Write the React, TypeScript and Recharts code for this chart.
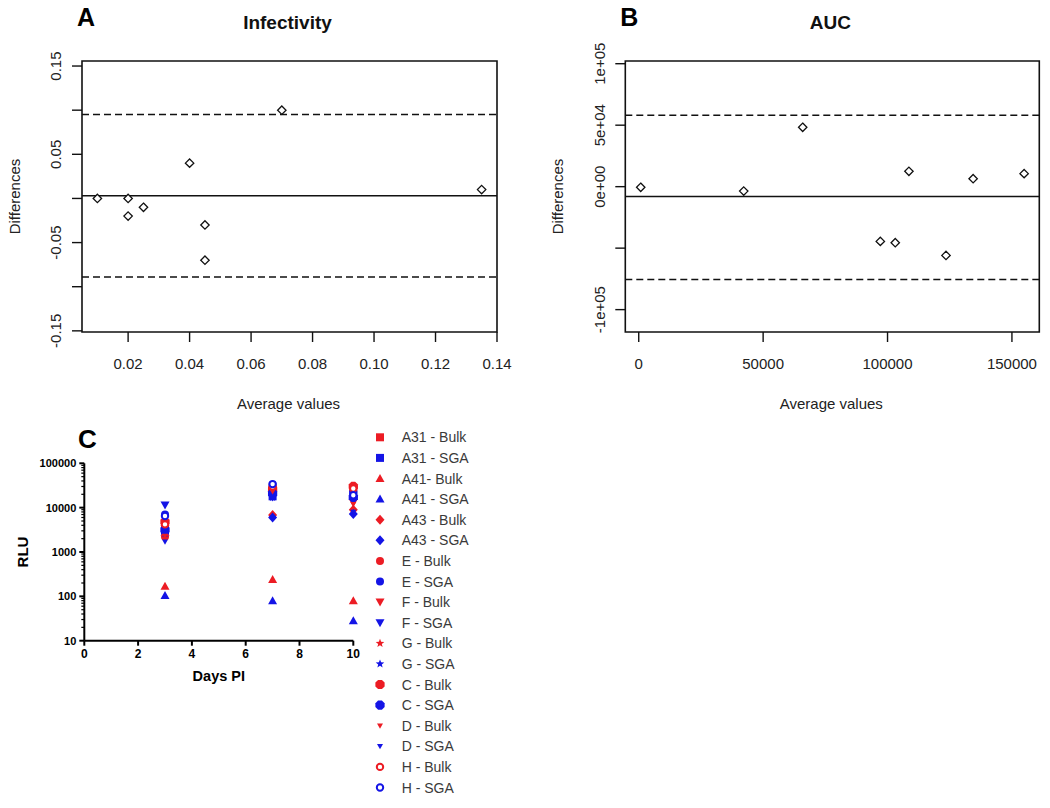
import React from "react";
import {
  ScatterChart,
  Scatter,
  XAxis,
  YAxis,
  ReferenceLine,
  ReferenceArea,
  Legend,
} from "recharts";

// ---- Panel A: infectivity (Bland-Altman) ----
const infAvg = [0.01, 0.02, 0.02, 0.025, 0.04, 0.045, 0.045, 0.07, 0.135];
const infDiff = [0.0, 0.0, -0.02, -0.01, 0.04, -0.03, -0.07, 0.1, 0.01];
const infMean = 0.003;
const infUpper = 0.095;
const infLower = -0.089;
const infXTicks = [0.02, 0.04, 0.06, 0.08, 0.1, 0.12, 0.14];
const infXLabels = ["0.02", "0.04", "0.06", "0.08", "0.10", "0.12", "0.14"];
const infYTicks = [-0.15, -0.1, -0.05, 0, 0.05, 0.1, 0.15];
const infYLabels = ["-0.15", "", "-0.05", "", "0.05", "", "0.15"];

// ---- Panel B: AUC (Bland-Altman) ----
const aucAvg = [800, 42200, 65900, 97100, 103100, 108600, 123500, 134400, 154900];
const aucDiff = [-500, -3600, 48300, -44500, -45600, 12500, -55900, 6500, 10600];
const aucMean = -8100;
const aucUpper = 58000;
const aucLower = -75500;
const aucXTicks = [0, 50000, 100000, 150000];
const aucXLabels = ["0", "50000", "100000", "150000"];
const aucYTicks = [-100000, -50000, 0, 50000, 100000];
const aucYLabels = ["-1e+05", "", "0e+00", "5e+04", "1e+05"];

// ---- Panel C: RLU over days ----
const days = [3, 7, 10];
const seriesNames = [
  "A31 - Bulk", "A31 - SGA", "A41- Bulk", "A41 - SGA", "A43 - Bulk", "A43 - SGA",
  "E - Bulk", "E - SGA", "F - Bulk", "F - SGA", "G - Bulk", "G - SGA",
  "C - Bulk", "C - SGA", "D - Bulk", "D - SGA", "H - Bulk", "H - SGA",
];
const seriesShapes = [
  "square", "square", "triangle", "triangle", "diamond", "diamond",
  "circle", "circle", "down", "down", "star", "star",
  "octagon", "octagon", "smallDown", "smallDown", "open", "open",
];
const seriesRLU = [
  [4500, 25000, 28000],
  [3000, 18000, 20000],
  [170, 240, 80],
  [105, 80, 28],
  [4000, 6800, 9000],
  [2800, 6000, 7200],
  [2200, 28000, 30000],
  [7000, 33000, 22000],
  [2000, 22000, 13000],
  [11500, 20000, 15000],
  [3500, 24000, 25000],
  [2600, 17000, 18000],
  [4800, 26000, 30000],
  [3200, 21000, 17000],
  [2300, 23000, 12000],
  [1700, 16000, 8000],
  [4200, 30000, 27000],
  [6500, 34000, 19000],
];
const rluMajor = [10, 100, 1000, 10000, 100000];
const dayTicks = [0, 2, 4, 6, 8, 10];

const RED = "#ec1c24";
const BLUE = "#1414e6";
const FONT = "'Liberation Sans', Arial, sans-serif";
const TXT = "#222";

const rluMinor = rluMajor.slice(0, -1).flatMap((m) => [2, 3, 4, 5, 6, 7, 8, 9].map((k) => k * m));
const rluTicks = [...rluMajor, ...rluMinor].sort((a, b) => a - b);

const Diamond = (p: any) => {
  const { cx, cy } = p;
  const r = 4.2;
  return (
    <polygon
      points={`${cx},${cy - r} ${cx + r},${cy} ${cx},${cy + r} ${cx - r},${cy}`}
      fill="#fff"
      stroke="#111"
      strokeWidth={1.3}
    />
  );
};

const Marker = ({ shape, color, cx, cy }: any) => {
  if (shape === "square") return <rect x={cx - 4} y={cy - 4} width={8} height={8} fill={color} />;
  if (shape === "triangle")
    return <polygon points={`${cx},${cy - 4.5} ${cx + 4.5},${cy + 3.5} ${cx - 4.5},${cy + 3.5}`} fill={color} />;
  if (shape === "down")
    return <polygon points={`${cx},${cy + 4.5} ${cx + 4.5},${cy - 3.5} ${cx - 4.5},${cy - 3.5}`} fill={color} />;
  if (shape === "smallDown")
    return <polygon points={`${cx},${cy + 3} ${cx + 3},${cy - 2.2} ${cx - 3},${cy - 2.2}`} fill={color} />;
  if (shape === "diamond")
    return <polygon points={`${cx},${cy - 5} ${cx + 4.5},${cy} ${cx},${cy + 5} ${cx - 4.5},${cy}`} fill={color} />;
  if (shape === "circle") return <circle cx={cx} cy={cy} r={4} fill={color} />;
  if (shape === "open") return <circle cx={cx} cy={cy} r={3.2} fill="#fff" stroke={color} strokeWidth={2} />;
  if (shape === "star") {
    const pts: string[] = [];
    for (let i = 0; i < 10; i++) {
      const r = i % 2 === 0 ? 4.5 : 1.9;
      const a = -Math.PI / 2 + (i * Math.PI) / 5;
      pts.push(`${cx + r * Math.cos(a)},${cy + r * Math.sin(a)}`);
    }
    return <polygon points={pts.join(" ")} fill={color} />;
  }
  // octagon
  const pts: string[] = [];
  for (let i = 0; i < 8; i++) {
    const a = Math.PI / 8 + (i * Math.PI) / 4;
    pts.push(`${cx + 5 * Math.cos(a)},${cy + 5 * Math.sin(a)}`);
  }
  return <polygon points={pts.join(" ")} fill={color} />;
};

// R-style ticks for panels A and B
const makeRXTick = (ticks: number[], labels: string[]) => (p: any) => {
  const { x, y, payload } = p;
  const lab = labels[ticks.indexOf(payload.value)] ?? "";
  return (
    <g>
      <line x1={x} x2={x} y1={y} y2={y + 10} stroke="#111" strokeWidth={1.4} />
      <text x={x} y={y + 36.5} textAnchor="middle" fontSize={15} fontFamily={FONT} fill={TXT}>
        {lab}
      </text>
    </g>
  );
};

const makeRYTick = (ticks: number[], labels: string[]) => (p: any) => {
  const { x, y, payload } = p;
  const lab = labels[ticks.indexOf(payload.value)] ?? "";
  const bx = x - 20.5;
  return (
    <g>
      <line x1={x - 10} x2={x} y1={y} y2={y} stroke="#111" strokeWidth={1.4} />
      <text
        x={bx}
        y={y}
        transform={`rotate(-90, ${bx}, ${y})`}
        textAnchor="middle"
        fontSize={15}
        fontFamily={FONT}
        fill={TXT}
      >
        {lab}
      </text>
    </g>
  );
};

// Prism-style ticks for panel C
const PrismXTick = (p: any) => {
  const { x, y, payload } = p;
  return (
    <g>
      <line x1={x} x2={x} y1={y} y2={y + 5} stroke="#000" strokeWidth={2} />
      <text x={x} y={y + 17} textAnchor="middle" fontSize={12} fontWeight="bold" fontFamily={FONT} fill="#000">
        {payload.value}
      </text>
    </g>
  );
};

const PrismYTick = (p: any) => {
  const { x, y, payload } = p;
  const major = rluMajor.includes(payload.value);
  return (
    <g>
      <line x1={x - (major ? 5 : 3)} x2={x} y1={y} y2={y} stroke="#000" strokeWidth={major ? 2 : 1.2} />
      {major && (
        <text x={x - 8} y={y + 4} textAnchor="end" fontSize={11} fontWeight="bold" fontFamily={FONT} fill="#000">
          {payload.value}
        </text>
      )}
    </g>
  );
};

const RLegend = () => (
  <svg width={170} height={390}>
    {seriesNames.map((name, i) => {
      const cy = 17.3 + i * 20.6;
      return (
        <g key={name}>
          <Marker shape={seriesShapes[i]} color={i % 2 === 0 ? RED : BLUE} cx={20} cy={cy} />
          <text x={41.7} y={cy + 5} fontSize={14} fontFamily={FONT} fill="#3a3a3a">
            {name}
          </text>
        </g>
      );
    })}
  </svg>
);

const BlandAltman = (props: any) => {
  const {
    letter, title, avg, diff, mean, upper, lower, xDomain, yDomain,
    xTicks, xLabels, yTicks, yLabels, width, marginRight, yWidth,
  } = props;
  const data = avg.map((x: number, i: number) => ({ x, y: diff[i] }));
  const plotL = yWidth;
  const plotR = width - marginRight;
  const midX = (plotL + plotR) / 2;
  return (
    <ScatterChart width={width} height={420} margin={{ top: 61, right: marginRight, bottom: 0, left: 0 }}>
      <XAxis
        type="number"
        dataKey="x"
        domain={xDomain}
        ticks={xTicks}
        interval={0}
        height={88}
        axisLine={false}
        tickLine={false}
        tickSize={0}
        tickMargin={0}
        tick={makeRXTick(xTicks, xLabels)}
        allowDataOverflow
      />
      <YAxis
        type="number"
        dataKey="y"
        domain={yDomain}
        ticks={yTicks}
        interval={0}
        width={yWidth}
        axisLine={false}
        tickLine={false}
        tickSize={0}
        tickMargin={0}
        tick={makeRYTick(yTicks, yLabels)}
        allowDataOverflow
      />
      <ReferenceArea
        x1={xDomain[0]}
        x2={xDomain[1]}
        y1={yDomain[0]}
        y2={yDomain[1]}
        fill="none"
        fillOpacity={0}
        stroke="#111"
        strokeWidth={1.6}
        ifOverflow="extendDomain"
      />
      <ReferenceLine y={mean} stroke="#111" strokeWidth={1.5} />
      <ReferenceLine y={upper} stroke="#111" strokeWidth={1.5} strokeDasharray="7 4" />
      <ReferenceLine y={lower} stroke="#111" strokeWidth={1.5} strokeDasharray="7 4" />
      <Scatter data={data} shape={Diamond} isAnimationActive={false} />
      <text x={plotL - 5} y={25.7} fontSize={25} fontWeight="bold" fontFamily={FONT} fill="#000">
        {letter}
      </text>
      <text x={midX - 2} y={28.5} textAnchor="middle" fontSize={19} fontWeight="bold" fontFamily={FONT} fill="#111">
        {title}
      </text>
      <text x={midX - 1} y={409} textAnchor="middle" fontSize={15} fontFamily={FONT} fill={TXT}>
        Average values
      </text>
      <text
        x={plotL - 62}
        y={196.5}
        transform={`rotate(-90, ${plotL - 62}, 196.5)`}
        textAnchor="middle"
        fontSize={15}
        fontFamily={FONT}
        fill={TXT}
      >
        Differences
      </text>
    </ScatterChart>
  );
};

export default function App() {
  return (
    <div style={{ position: "absolute", left: 0, top: 0, width: 1050, height: 808, background: "#fff" }}>
      <div style={{ position: "absolute", left: 0, top: 0 }}>
        <BlandAltman
          letter="A"
          title="Infectivity"
          avg={infAvg}
          diff={infDiff}
          mean={infMean}
          upper={infUpper}
          lower={infLower}
          xDomain={[0.005, 0.14]}
          yDomain={[-0.1513, 0.1557]}
          xTicks={infXTicks}
          xLabels={infXLabels}
          yTicks={infYTicks}
          yLabels={infYLabels}
          width={520}
          marginRight={23}
          yWidth={82}
        />
      </div>
      <div style={{ position: "absolute", left: 520, top: 0 }}>
        <BlandAltman
          letter="B"
          title="AUC"
          avg={aucAvg}
          diff={aucDiff}
          mean={aucMean}
          upper={aucUpper}
          lower={aucLower}
          xDomain={[-5400, 161000]}
          yDomain={[-118200, 102200]}
          xTicks={aucXTicks}
          xLabels={aucXLabels}
          yTicks={aucYTicks}
          yLabels={aucYLabels}
          width={530}
          marginRight={10.7}
          yWidth={105.3}
        />
      </div>
      <div style={{ position: "absolute", left: 0, top: 420 }}>
        <ScatterChart width={530} height={388} margin={{ top: 43.3, right: 176.7, bottom: 0, left: 0 }}>
          <XAxis
            type="number"
            dataKey="x"
            domain={[0, 10]}
            ticks={dayTicks}
            interval={0}
            height={167.3}
            axisLine={{ stroke: "#000", strokeWidth: 2 }}
            tickLine={false}
            tickSize={0}
            tickMargin={0}
            tick={PrismXTick}
          />
          <YAxis
            type="number"
            dataKey="y"
            scale="log"
            domain={[10, 100000]}
            ticks={rluTicks}
            interval={0}
            width={84.3}
            axisLine={{ stroke: "#000", strokeWidth: 2 }}
            tickLine={false}
            tickSize={0}
            tickMargin={0}
            tick={PrismYTick}
            allowDataOverflow
          />
          <Legend
            layout="vertical"
            align="center"
            verticalAlign="middle"
            content={RLegend}
            wrapperStyle={{ left: 360, top: 0, width: 170, height: 388 }}
          />
          {seriesNames.map((name, i) => (
            <Scatter
              key={name}
              name={name}
              data={days.map((d, j) => ({ x: d, y: seriesRLU[i][j] }))}
              fill={i % 2 === 0 ? RED : BLUE}
              shape={(p: any) => <Marker shape={seriesShapes[i]} color={i % 2 === 0 ? RED : BLUE} cx={p.cx} cy={p.cy} />}
              isAnimationActive={false}
            />
          ))}
          <text x={78} y={28} fontSize={26} fontWeight="bold" fontFamily={FONT} fill="#000">
            C
          </text>
          <text x={218.8} y={260.7} textAnchor="middle" fontSize={14.5} fontWeight="bold" fontFamily={FONT} fill="#000">
            Days PI
          </text>
          <text
            x={27.5}
            y={132}
            transform="rotate(-90, 27.5, 132)"
            textAnchor="middle"
            fontSize={15}
            fontWeight="bold"
            fontFamily={FONT}
            fill="#000"
          >
            RLU
          </text>
        </ScatterChart>
      </div>
    </div>
  );
}
